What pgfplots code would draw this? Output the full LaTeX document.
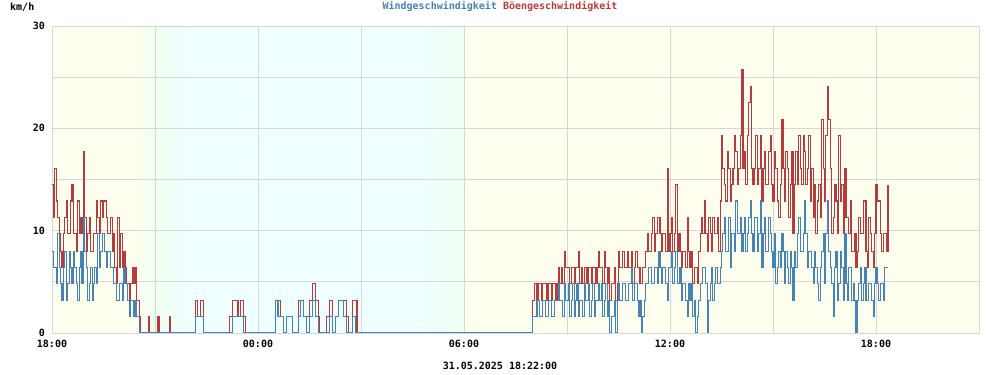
\documentclass[border=0pt]{standalone}
\usepackage{fontspec}
\setmainfont{DejaVu Sans Mono}
\usepackage{pgfplots}
\usepackage{pgfplotstable}
\pgfplotsset{compat=1.18}
\definecolor{windblue}{RGB}{70,130,180}
\definecolor{gustred}{RGB}{180,60,60}
\definecolor{gridgray}{RGB}{215,215,215}
\definecolor{dayc}{RGB}{255,255,240}
\definecolor{twic}{RGB}{240,255,240}
\definecolor{nightc}{RGB}{240,255,255}

\pgfplotstableread{
t B R
0 8 14.5
2.5 6.4 11.3
5 6.4 16.1
7.5 4.8 12.9
10 9.7 11.3
12.5 6.4 9.7
15 4.8 8
17.5 3.2 6.4
20 6.4 9.7
22.5 8 11.3
25 3.2 12.9
27.5 4.8 9.7
30 8 9.7
32.5 6.4 12.9
35 4.8 14.5
37.5 8 9.7
40 6.4 9.7
42.5 4.8 8
45 3.2 12.9
47.5 6.4 9.7
50 8 11.3
52.5 4.8 9.7
55 11.3 17.7
57.5 8 11.3
60 6.4 8
62.5 3.2 9.7
65 4.8 11.3
67.5 6.4 8
70 3.2 8
72.5 4.8 9.7
75 6.4 9.7
77.5 4.8 12.9
80 9.7 11.3
82.5 6.4 9.7
85 8 12.9
87.5 9.7 11.3
90 9.7 12.9
92.5 8 12.9
95 6.4 11.3
97.5 8 9.7
100 8 9.7
102.5 6.4 11.3
105 6.4 8
107.5 4.8 9.7
110 4.8 6.4
112.5 3.2 4.8
115 3.2 11.3
117.5 4.8 6.4
120 4.8 9.7
122.5 3.2 6.4
125 6.4 8
127.5 4.8 6.4
130 4.8 4.8
132.5 3.2 4.8
135 1.6 3.2
137.5 3.2 4.8
140 3.2 6.4
142.5 1.6 4.8
145 3.2 6.4
147.5 1.6 3.2
150 1.6 3.2
152.5 0 1.6
155 0 0
168 0 1.6
170 0 0
185 0 1.6
187 0 0
205 0 1.6
207 0 0
250 1.6 3.2
255 1.6 1.6
260 1.6 3.2
265 0 0
310 0 1.6
315 1.6 3.2
320 1.6 3.2
325 1.6 1.6
330 1.6 3.2
335 0 1.6
338 0 0
390 3.2 3.2
395 1.6 3.2
400 1.6 1.6
405 0 0
410 1.6 1.6
415 1.6 1.6
420 0 0
430 1.6 3.2
435 3.2 3.2
440 1.6 1.6
445 0 1.6
450 1.6 3.2
455 3.2 4.8
460 1.6 3.2
465 0 1.6
468 0 0
480 0 1.6
485 1.6 3.2
490 0 0
495 1.6 1.6
500 3.2 3.2
505 3.2 3.2
510 1.6 3.2
515 0 1.6
518 0 0
525 1.6 3.2
530 0 3.2
533 0 0
840 1.6 3.2
842.5 1.6 4.8
845 1.6 4.8
847.5 3.2 3.2
850 3.2 4.8
852.5 1.6 4.8
855 1.6 3.2
857.5 3.2 4.8
860 3.2 4.8
862.5 1.6 4.8
865 1.6 3.2
867.5 3.2 4.8
870 3.2 4.8
872.5 1.6 3.2
875 1.6 4.8
877.5 3.2 4.8
880 3.2 3.2
882.5 3.2 4.8
885 4.8 6.4
887.5 3.2 4.8
890 3.2 6.4
892.5 1.6 4.8
895 4.8 8
897.5 3.2 6.4
900 3.2 6.4
902.5 4.8 6.4
905 1.6 4.8
907.5 3.2 6.4
910 4.8 6.4
912.5 1.6 4.8
915 3.2 6.4
917.5 4.8 6.4
920 1.6 8
922.5 3.2 4.8
925 3.2 6.4
927.5 1.6 4.8
930 4.8 6.4
932.5 3.2 6.4
935 3.2 4.8
937.5 4.8 6.4
940 1.6 6.4
942.5 3.2 4.8
945 4.8 6.4
947.5 1.6 6.4
950 3.2 4.8
952.5 3.2 6.4
955 4.8 8
957.5 3.2 6.4
960 4.8 6.4
962.5 1.6 4.8
965 3.2 8
967.5 4.8 6.4
970 1.6 4.8
972.5 3.2 6.4
975 0 3.2
977.5 1.6 4.8
980 1.6 4.8
982.5 3.2 6.4
985 0 3.2
987.5 3.2 4.8
990 4.8 8
992.5 3.2 6.4
995 3.2 6.4
997.5 4.8 8
1000 4.8 6.4
1002.5 3.2 6.4
1005 3.2 8
1007.5 4.8 6.4
1010 4.8 6.4
1012.5 6.4 8
1015 3.2 4.8
1017.5 4.8 6.4
1020 4.8 8
1022.5 3.2 6.4
1025 1.6 6.4
1027.5 3.2 4.8
1030 0 4.8
1032.5 1.6 6.4
1035 3.2 6.4
1037.5 4.8 8
1040 4.8 9.7
1042.5 6.4 8
1045 6.4 8
1047.5 4.8 9.7
1050 4.8 11.3
1052.5 6.4 8
1055 6.4 9.7
1057.5 4.8 11.3
1060 8 11.3
1062.5 6.4 9.7
1065 4.8 8
1067.5 6.4 9.7
1070 6.4 9.7
1072.5 4.8 8
1075 3.2 16.1
1077.5 6.4 8
1080 6.4 9.7
1082.5 8 11.3
1085 4.8 8
1087.5 6.4 9.7
1090 8 14.5
1092.5 4.8 8
1095 4.8 9.7
1097.5 6.4 8
1100 3.2 6.4
1102.5 4.8 8
1105 4.8 8
1107.5 3.2 6.4
1110 1.6 11.3
1112.5 4.8 8
1115 3.2 6.4
1117.5 4.8 8
1120 1.6 4.8
1122.5 3.2 6.4
1125 0 6.4
1127.5 1.6 4.8
1130 3.2 8
1132.5 4.8 9.7
1135 4.8 11.3
1137.5 6.4 9.7
1140 6.4 12.9
1142.5 4.8 9.7
1145 0 8
1147.5 3.2 11.3
1150 4.8 9.7
1152.5 6.4 8
1155 3.2 11.3
1157.5 4.8 9.7
1160 6.4 9.7
1162.5 4.8 11.3
1165 4.8 8
1167.5 6.4 12.9
1170 8 19.3
1172.5 9.7 16.1
1175 11.3 14.5
1177.5 8 12.9
1180 8 17.7
1182.5 11.3 16.1
1185 6.4 12.9
1187.5 9.7 14.5
1190 9.7 16.1
1192.5 8 19.3
1195 12.9 17.7
1197.5 9.7 14.5
1200 9.7 16.1
1202.5 11.3 19.3
1205 8 25.7
1207.5 9.7 16.1
1210 11.3 17.7
1212.5 8 14.5
1215 9.7 19.3
1217.5 11.3 22.5
1220 12.9 24.1
1222.5 9.7 16.1
1225 8 14.5
1227.5 11.3 16.1
1230 11.3 19.3
1232.5 8 14.5
1235 9.7 16.1
1237.5 12.9 19.3
1240 6.4 12.9
1242.5 9.7 16.1
1245 11.3 17.7
1247.5 8 14.5
1250 8 14.5
1252.5 11.3 17.7
1255 9.7 19.3
1257.5 8 14.5
1260 6.4 12.9
1262.5 9.7 17.7
1265 4.8 16.1
1267.5 6.4 12.9
1270 8 11.3
1272.5 6.4 14.5
1275 9.7 20.9
1277.5 8 16.1
1280 4.8 12.9
1282.5 8 17.7
1285 6.4 16.1
1287.5 4.8 11.3
1290 8 14.5
1292.5 6.4 17.7
1295 3.2 9.7
1297.5 8 14.5
1300 6.4 17.7
1302.5 9.7 14.5
1305 11.3 19.3
1307.5 8 16.1
1310 8 14.5
1312.5 9.7 19.3
1315 12.9 17.7
1317.5 9.7 14.5
1320 6.4 16.1
1322.5 8 19.3
1325 8 12.9
1327.5 6.4 16.1
1330 4.8 11.3
1332.5 8 14.5
1335 6.4 9.7
1337.5 4.8 12.9
1340 3.2 14.5
1342.5 6.4 11.3
1345 8 20.9
1347.5 9.7 16.1
1350 4.8 12.9
1352.5 9.7 19.3
1355 12.9 24.1
1357.5 8 20.9
1360 6.4 16.1
1362.5 4.8 9.7
1365 1.6 11.3
1367.5 6.4 14.5
1370 8 12.9
1372.5 3.2 9.7
1375 4.8 19.3
1377.5 8 12.9
1380 6.4 14.5
1382.5 3.2 9.7
1385 9.7 16.1
1387.5 4.8 11.3
1390 3.2 11.3
1392.5 6.4 9.7
1395 6.4 12.9
1397.5 3.2 8
1400 4.8 8
1402.5 3.2 9.7
1405 0 6.4
1407.5 3.2 8
1410 4.8 11.3
1412.5 6.4 9.7
1415 3.2 9.7
1417.5 4.8 12.9
1420 6.4 12.9
1422.5 3.2 8
1425 3.2 6.4
1427.5 4.8 11.3
1430 4.8 9.7
1432.5 3.2 8
1435 1.6 6.4
1437.5 4.8 9.7
1440 6.4 14.5
1442.5 4.8 12.9
1445 3.2 12.9
1447.5 4.8 9.7
1450 4.8 8
1452.5 3.2 9.7
1455 6.4 9.7
1458 6.4 8
1461 6.4 14.5
}\windtbl

\begin{document}
\begin{tikzpicture}
\useasboundingbox (0,0) rectangle (1000bp,375bp);
\pgfplotsset{common/.style={at={(52bp,42bp)}, anchor=south west, scale only axis,
  width=927bp, height=307bp, xmin=0, xmax=1620, ymin=0, ymax=30}}
\begin{axis}[common, hide axis]
\fill[dayc] (axis cs:0,0) rectangle (axis cs:1620,30);
\shade[left color=dayc, right color=twic] (axis cs:145,0) rectangle (axis cs:180.5,30);
\shade[left color=twic, right color=nightc] (axis cs:180,0) rectangle (axis cs:235,30);
\fill[nightc] (axis cs:234,0) rectangle (axis cs:653,30);
\shade[left color=nightc, right color=twic] (axis cs:652,0) rectangle (axis cs:720,30);
\end{axis}
\begin{axis}[common,
  axis line style={gridgray, line width=0.8bp},
  grid=major, grid style={gridgray, line width=0.8bp},
  xtick={0,180,...,1620},
  xticklabels={18:00,,00:00,,06:00,,12:00,,18:00,},
  ytick={0,5,...,30},
  yticklabels={0,,10,,20,,30},
  major tick length=0,
  tick label style={font=\bfseries\fontsize{10bp}{12bp}\selectfont, inner sep=0pt},
  xticklabel style={yshift=-7bp},
  yticklabel style={xshift=-7bp},
  /pgf/number format/assume math mode=true]
\addplot[const plot, gustred, line width=1.1bp] table[x=t, y=R] {\windtbl};
\addplot[const plot, windblue, line width=1.1bp] table[x=t, y=B] {\windtbl};
\end{axis}
\node[anchor=west, font=\bfseries\fontsize{10bp}{12bp}\selectfont, inner sep=0pt] at (10bp,368bp) {km/h};
\node[font=\bfseries\fontsize{10bp}{12bp}\selectfont, inner sep=0pt] at (500bp,369bp) {\textcolor{windblue}{Windgeschwindigkeit} \textcolor{gustred}{Böengeschwindigkeit}};
\node[font=\bfseries\fontsize{10bp}{12bp}\selectfont, inner sep=0pt] at (500bp,9bp) {31.05.2025 18:22:00};
\end{tikzpicture}
\end{document}
